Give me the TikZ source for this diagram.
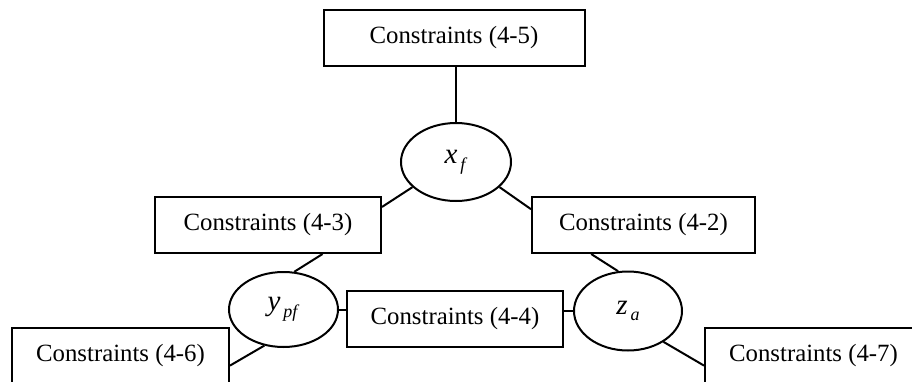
\documentclass[tikz,border=0pt]{standalone}
\usepackage{fontspec}
\setmainfont{Liberation Serif}
\usetikzlibrary{shapes.geometric}
\tikzset{
  cbox/.style  = {rectangle, draw=black, line width=1pt, minimum height=28pt,
                  inner sep=0pt, font=\fontsize{12.4}{14}\selectfont},
  vnode/.style = {ellipse, draw=black, line width=1pt, inner sep=0pt,
                  font=\fontsize{14.5}{16}\selectfont},
  link/.style  = {draw=black, line width=1pt},
}
\newcommand{\vsym}[2]{\textit{#1}\raisebox{-0.5ex}{\fontsize{9}{10}\selectfont\,\textit{#2}}}

\begin{document}
\begin{tikzpicture}[x=0.5pt, y=-0.5pt]
  \clip (0,0) rectangle (912,381);
  \node[cbox, minimum width=130.5pt] (c45) at (454,38) {Constraints (4-5)};
  \node[vnode, minimum width=55pt, minimum height=39pt] (xf) at (456,162) {\vsym{x}{f}};
  \node[cbox, minimum width=113pt] (c43) at (268,225) {Constraints (4-3)};
  \node[cbox, minimum width=111.5pt] (c42) at (643.5,225) {Constraints (4-2)};
  \node[vnode, minimum width=54.5pt, minimum height=37.5pt] (yp) at (283.5,309.5) {\vsym{y}{pf}};
  \node[cbox, minimum width=108pt] (c44) at (455,319) {Constraints (4-4)};
  \node[vnode, minimum width=54pt, minimum height=39.5pt] (za) at (628,311) {\vsym{z}{a}};
  \node[cbox, minimum width=108.5pt] (c46) at (120.5,356) {Constraints (4-6)};
  \node[cbox, minimum width=108.5pt] (c47) at (813.5,356) {Constraints (4-7)};
  % links between constraints and variables
  \draw[link] (xf.north |- c45.south) -- (xf.north);
  \draw[link] (yp.east) -- (yp.east -| c44.west);
  \draw[link] (c44.east |- za.west) -- (za.west);
  \foreach \a/\b in {xf.210/c43.9, xf.330/c42.172, c43.-28/yp.74, yp.242/c46.-5,
                     c42.209/za.104, za.-41/c47.185}{\draw[link] (\a) -- (\b);}
\end{tikzpicture}
\end{document}
